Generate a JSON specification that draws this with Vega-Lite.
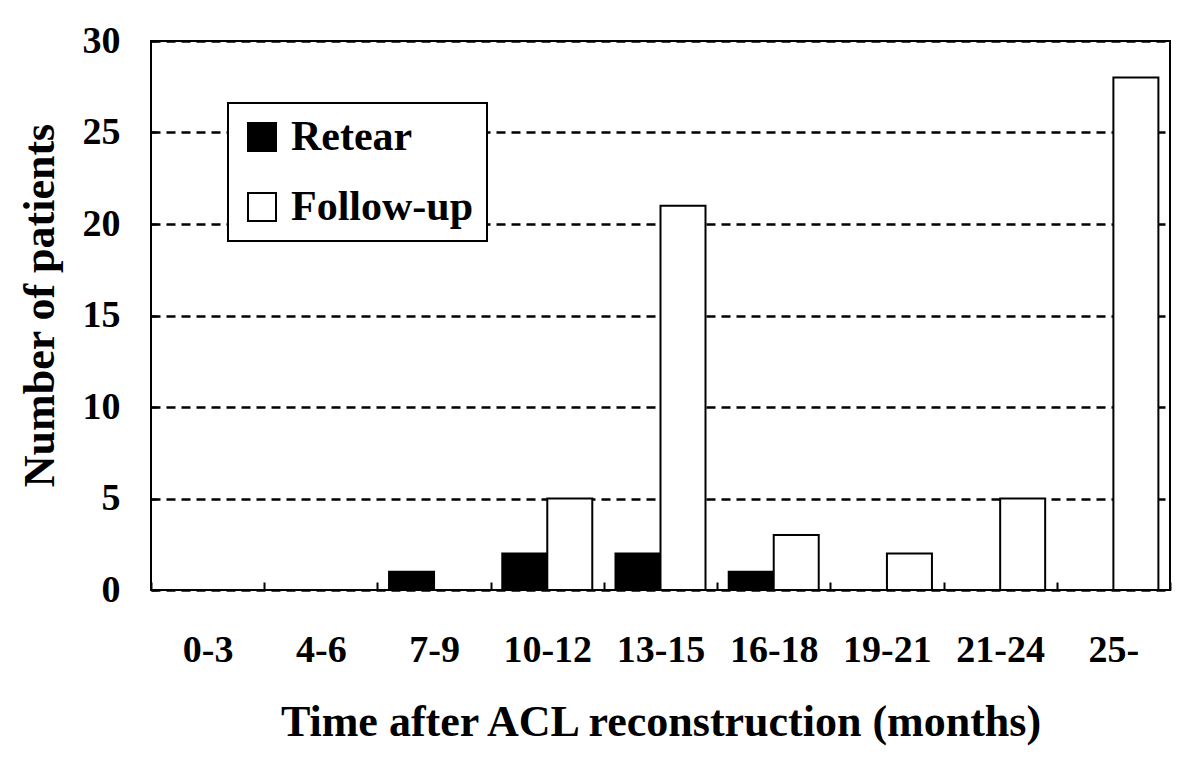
{
  "$schema": "https://vega.github.io/schema/vega-lite/v6.json",
  "width": 1019,
  "height": 549,
  "autosize": {"type": "none"},
  "padding": {"left": 151, "top": 41, "right": 30, "bottom": 194},
  "background": "white",
  "config": {
    "view": {"stroke": "black", "strokeWidth": 2},
    "font": "Liberation Serif",
    "legend": {"strokeWidth": 2}
  },
  "data": {
    "values": [
      {"period": "0-3", "series": "Retear", "count": 0},
      {"period": "0-3", "series": "Follow-up", "count": 0},
      {"period": "4-6", "series": "Retear", "count": 0},
      {"period": "4-6", "series": "Follow-up", "count": 0},
      {"period": "7-9", "series": "Retear", "count": 1},
      {"period": "7-9", "series": "Follow-up", "count": 0},
      {"period": "10-12", "series": "Retear", "count": 2},
      {"period": "10-12", "series": "Follow-up", "count": 5},
      {"period": "13-15", "series": "Retear", "count": 2},
      {"period": "13-15", "series": "Follow-up", "count": 21},
      {"period": "16-18", "series": "Retear", "count": 1},
      {"period": "16-18", "series": "Follow-up", "count": 3},
      {"period": "19-21", "series": "Retear", "count": 0},
      {"period": "19-21", "series": "Follow-up", "count": 2},
      {"period": "21-24", "series": "Retear", "count": 0},
      {"period": "21-24", "series": "Follow-up", "count": 5},
      {"period": "25-", "series": "Retear", "count": 0},
      {"period": "25-", "series": "Follow-up", "count": 28}
    ]
  },
  "mark": {"type": "bar", "stroke": "black", "strokeWidth": 2},
  "encoding": {
    "x": {
      "field": "period",
      "type": "nominal",
      "sort": ["0-3", "4-6", "7-9", "10-12", "13-15", "16-18", "19-21", "21-24", "25-"],
      "scale": {"paddingInner": 0, "paddingOuter": 0},
      "axis": {
        "title": "Time after ACL reconstruction (months)",
        "labelAngle": 0,
        "labelFont": "Liberation Serif",
        "labelFontWeight": "bold",
        "labelFontSize": 38,
        "labelColor": "black",
        "labelBaseline": "alphabetic",
        "labelPadding": 79,
        "tickBand": "extent",
        "tickSize": -8,
        "tickColor": "black",
        "tickWidth": 2,
        "domain": false,
        "titleFont": "Liberation Serif",
        "titleFontSize": 44,
        "titleFontWeight": "bold",
        "titleColor": "black",
        "titleBaseline": "alphabetic",
        "titleY": 145
      }
    },
    "xOffset": {
      "field": "series",
      "type": "nominal",
      "sort": ["Retear", "Follow-up"],
      "scale": {"domain": ["Retear", "Follow-up"], "paddingInner": 0, "paddingOuter": 0.258}
    },
    "y": {
      "field": "count",
      "type": "quantitative",
      "scale": {"domain": [0, 30], "nice": false},
      "axis": {
        "title": "Number of patients",
        "values": [0, 5, 10, 15, 20, 25, 30],
        "grid": true,
        "gridDash": [9, 6],
        "gridColor": "black",
        "gridWidth": 2.5,
        "gridOpacity": 1,
        "domain": false,
        "tickSize": -6,
        "tickColor": "black",
        "tickWidth": 2,
        "labelPadding": 37,
        "labelFont": "Liberation Serif",
        "labelFontWeight": "bold",
        "labelFontSize": 38,
        "labelColor": "black",
        "titleFont": "Liberation Serif",
        "titleFontSize": 44,
        "titleFontWeight": "bold",
        "titleColor": "black",
        "titleBaseline": "alphabetic",
        "titleX": -98,
        "titleY": 264
      }
    },
    "color": {
      "field": "series",
      "type": "nominal",
      "sort": ["Retear", "Follow-up"],
      "scale": {"domain": ["Retear", "Follow-up"], "range": ["black", "white"]},
      "legend": {
        "title": null,
        "orient": "none",
        "legendX": 77,
        "legendY": 62,
        "symbolType": "square",
        "symbolSize": 784,
        "symbolStrokeColor": "black",
        "symbolStrokeWidth": 2,
        "symbolOpacity": 1,
        "labelFont": "Liberation Serif",
        "labelFontSize": 42,
        "labelFontWeight": "bold",
        "labelColor": "black",
        "labelOffset": 8,
        "labelLimit": 0,
        "rowPadding": 28,
        "padding": 13,
        "strokeColor": "black",
        "fillColor": "white"
      }
    }
  }
}
